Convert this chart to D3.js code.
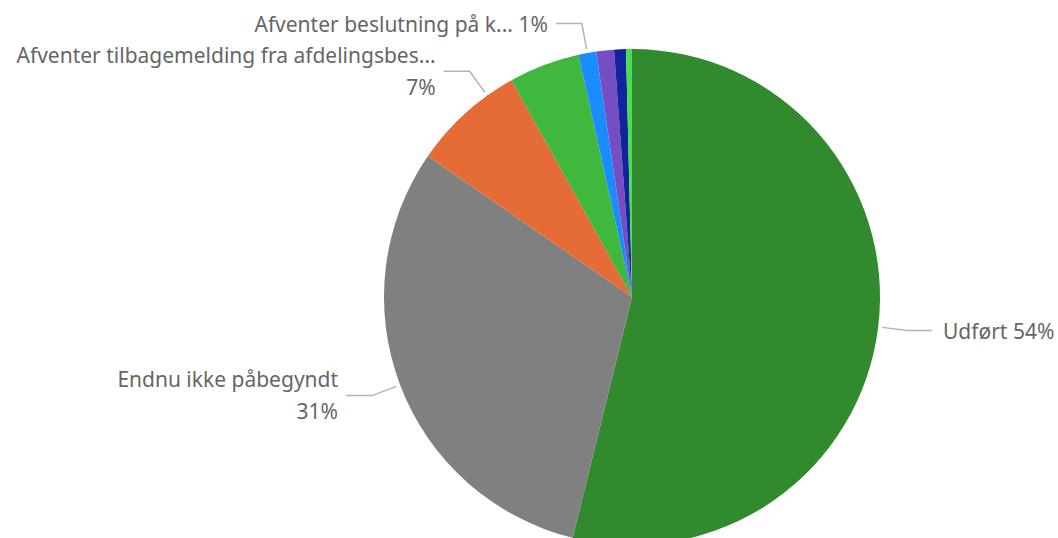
<!DOCTYPE html>
<html>
<head>
<meta charset="utf-8">
<script src="https://cdn.jsdelivr.net/npm/d3@7"></script>
<style>
  body { margin: 0; background: #fff; }
  text { font-family: "Noto Sans", "Open Sans", sans-serif; }
</style>
</head>
<body>
<div id="chart-area"></div>
<script>
// status categories, clockwise from 12 o'clock
var categories = [
    "Udført",
    "Endnu ikke påbegyndt",
    "Afventer tilbagemelding fra afdelingsbes...",
    "Igangsat",
    "Afventer beslutning på k...",
    "Afventer økonomi",
    "Udskudt",
    "Annulleret"
];
var counts = [140, 80, 19, 12, 3, 3, 2, 1];
var colors = ["#318a2e", "#808080", "#e66c37", "#3fb83d", "#1a8cff", "#744ec2", "#12239e", "#4be04b"];

// which slices get a data label, and how
var labelled = ["Udført", "Endnu ikke påbegyndt", "Afventer tilbagemelding fra afdelingsbes...", "Afventer beslutning på k..."];
var twoLine = ["Endnu ikke påbegyndt", "Afventer tilbagemelding fra afdelingsbes..."];
var angleNudge = { "Afventer tilbagemelding fra afdelingsbes...": 6.5 };

var width = 1058;
var height = 538;
var cx = 632, cy = 297;
var radius = 248;

var svg = d3.select("#chart-area")
    .append("svg")
    .attr("width", width)
    .attr("height", height);

var g = svg.append("g")
    .attr("transform", "translate(" + cx + ", " + cy + ")");

var data = categories.map((c, i) => ({ name: c, value: counts[i], color: colors[i] }));
var total = d3.sum(counts);

var pie = d3.pie().sort(null).value((d) => d.value);
var arc = d3.arc().innerRadius(0).outerRadius(radius);

var arcs = pie(data);

g.selectAll("path.slice")
    .data(arcs)
    .enter()
    .append("path")
    .attr("class", "slice")
    .attr("d", arc)
    .attr("fill", (d) => d.data.color);

function pt(angle, r) {
    return [Math.sin(angle) * r, -Math.cos(angle) * r];
}

var labels = arcs.filter((d) => labelled.indexOf(d.data.name) >= 0);

labels.forEach((d) => {
    var a = (d.startAngle + d.endAngle) / 2 + (angleNudge[d.data.name] || 0) * Math.PI / 180;
    var right = Math.sin(a) > 0;
    var p0 = pt(a, radius + 4);
    var p1 = pt(a, radius + 30);
    var p2 = [p1[0] + (right ? 24 : -26), p1[1]];

    g.append("polyline")
        .attr("points", [p0, p1, p2].map((p) => p.join(",")).join(" "))
        .attr("fill", "none")
        .attr("stroke", "#b3b3b3")
        .attr("stroke-width", 1.5);

    var pct = Math.round(d.data.value / total * 100) + "%";
    var tx = p2[0] + (right ? 11 : -8);
    var t = g.append("text")
        .attr("x", tx)
        .attr("text-anchor", right ? "start" : "end")
        .attr("fill", "#666")
        .attr("font-size", "21px");

    if (twoLine.indexOf(d.data.name) >= 0) {
        t.append("tspan").attr("x", tx).attr("y", p1[1] - 16).attr("dy", "0.35em").text(d.data.name);
        t.append("tspan").attr("x", tx).attr("y", p1[1] + 16).attr("dy", "0.35em").text(pct);
    } else {
        t.attr("y", p1[1] + 1).attr("dy", "0.35em").text(d.data.name + " " + pct);
    }
});
</script>
</body>
</html>
